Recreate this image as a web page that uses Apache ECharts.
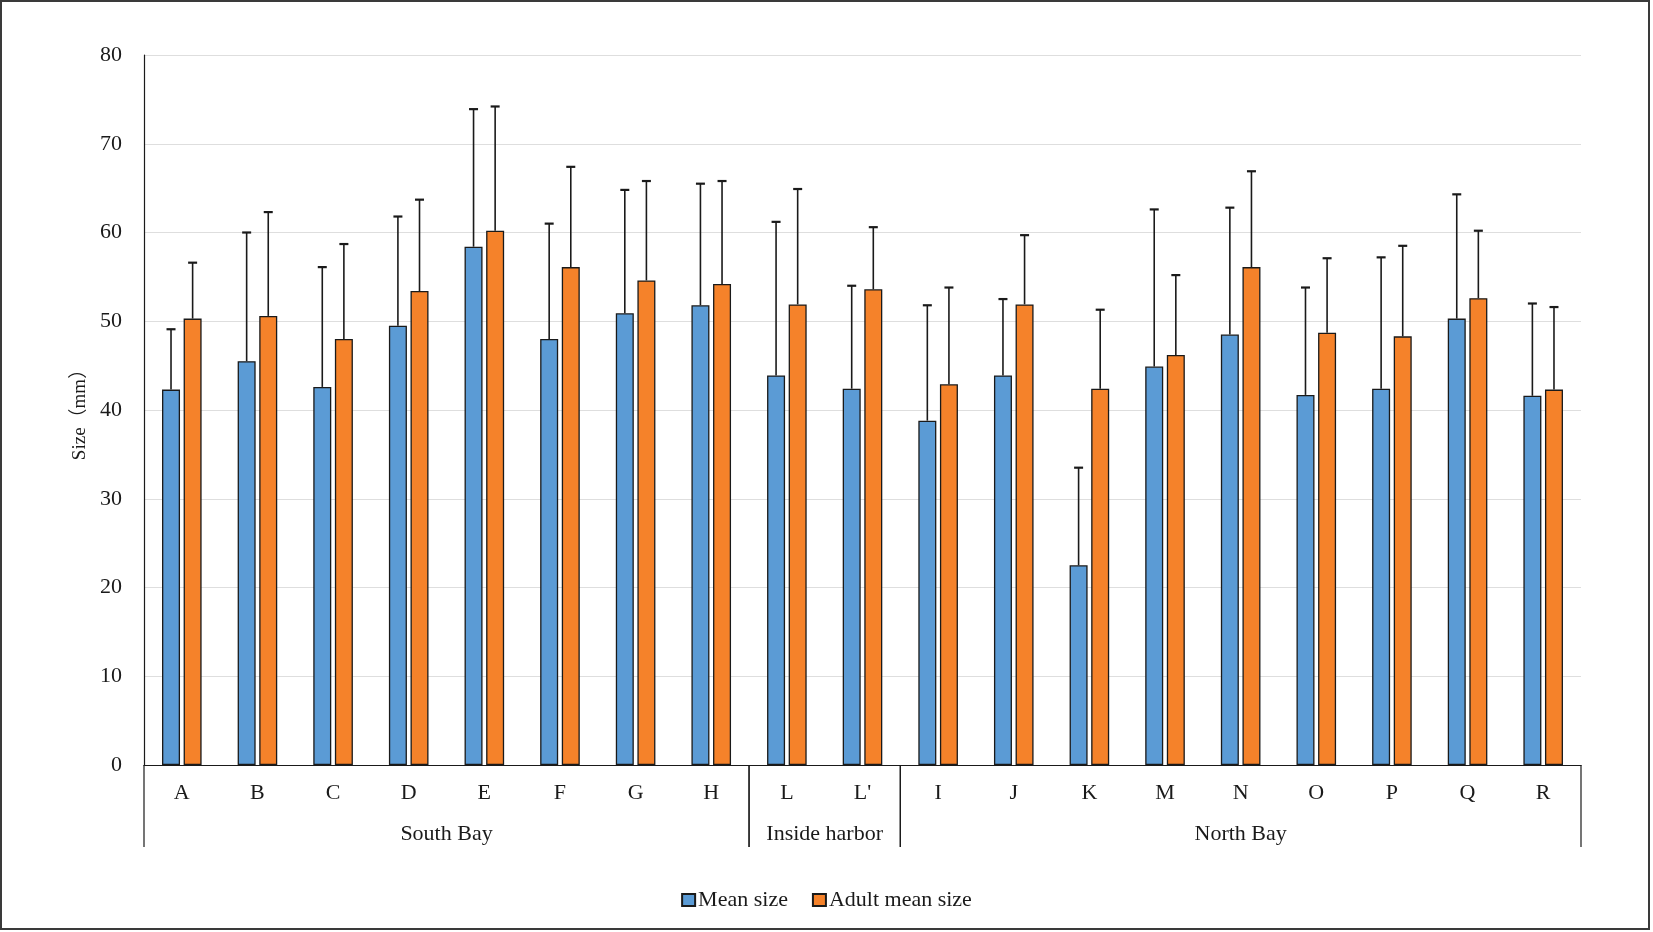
<!DOCTYPE html>
<html>
<head>
<meta charset="utf-8">
<script src="https://cdn.jsdelivr.net/npm/echarts@6/dist/echarts.min.js"></script>
<style>
html,body{margin:0;padding:0;background:#fff;}
#chart{position:absolute;left:0;top:0;width:1653px;height:932px;}
#frame{position:absolute;left:0;top:0;width:1646px;height:926px;border:2px solid #3a3a3a;pointer-events:none;}
</style>
</head>
<body>
<div id="chart"></div>
<div id="frame"></div>
<script>
const categories = ['A','B','C','D','E','F','G','H','L',"L'",'I','J','K','M','N','O','P','Q','R'];
const meanSize = [42.3, 45.5, 42.6, 49.5, 58.4, 48.0, 50.9, 51.8, 43.9, 42.4, 38.8, 43.9, 22.5, 44.9, 48.5, 41.7, 42.4, 50.3, 41.6];
const meanSizeSD = [6.8, 14.5, 13.5, 12.3, 15.5, 13.0, 13.9, 13.7, 17.3, 11.6, 13.0, 8.6, 11.0, 17.7, 14.3, 12.1, 14.8, 14.0, 10.4];
const adultMeanSize = [50.3, 50.6, 48.0, 53.4, 60.2, 56.1, 54.6, 54.2, 51.9, 53.6, 42.9, 51.9, 42.4, 46.2, 56.1, 48.7, 48.3, 52.6, 42.3];
const adultMeanSizeSD = [6.3, 11.7, 10.7, 10.3, 14.0, 11.3, 11.2, 11.6, 13.0, 7.0, 10.9, 7.8, 8.9, 9.0, 10.8, 8.4, 10.2, 7.6, 9.3];
const groupNames = ['South Bay', 'Inside harbor', 'North Bay'];
const groupRanges = [[0, 7], [8, 9], [10, 18]];
const yTicks = [0, 10, 20, 30, 40, 50, 60, 70, 80];

const FONT = "'Liberation Serif', 'Times New Roman', 'Noto Sans CJK SC', serif";
const BAR_W = 18;
const BAR_GAP = 0.2;
const BLUE = '#5B9BD5';
const ORANGE = '#F5822A';

function errRender(sign) {
  return function (params, api) {
    const x = api.value(0), v = api.value(1), sd = api.value(2);
    const off = sign * BAR_W * (1 + BAR_GAP) / 2;
    const b = api.coord([x, v]);
    const t = api.coord([x, v + sd]);
    const cx = b[0] + off;
    const cap = 4.5;
    const st = { stroke: '#1a1a1a', lineWidth: 1.6 };
    return {
      type: 'group',
      children: [
        { type: 'line', shape: { x1: cx, y1: b[1], x2: cx, y2: t[1] }, style: st },
        { type: 'line', shape: { x1: cx - cap, y1: t[1], x2: cx + cap, y2: t[1] }, style: { stroke: '#1a1a1a', lineWidth: 2.2 } }
      ]
    };
  };
}

function groupRender(params, api) {
  const s = api.value(0), e = api.value(1);
  const bw = api.size([1, 0])[0];
  const p0 = api.coord([s, 0]);
  const p1 = api.coord([e, 0]);
  const xl = p0[0] - bw / 2, xr = p1[0] + bw / 2, y0 = p0[1];
  const st = { stroke: '#1a1a1a', lineWidth: 1.2 };
  return {
    type: 'group',
    children: [
      { type: 'line', shape: { x1: xl, y1: y0, x2: xl, y2: y0 + 82 }, style: st },
      { type: 'line', shape: { x1: xr, y1: y0, x2: xr, y2: y0 + 82 }, style: st },
      { type: 'text', style: { text: groupNames[params.dataIndex], x: (xl + xr) / 2, y: y0 + 69,
        align: 'center', verticalAlign: 'middle', fontSize: 22, fontFamily: FONT, fill: '#1a1a1a' } }
    ]
  };
}

const chart = echarts.init(document.getElementById('chart'), null, { renderer: 'canvas' });
chart.setOption({
  animation: false,
  backgroundColor: '#fff',
  grid: { left: 144, right: 72, top: 55, bottom: 167, containLabel: false },
  legend: {
    data: ['Mean size', 'Adult mean size'],
    left: 'center', top: 884,
    icon: 'rect', itemWidth: 13, itemHeight: 12, itemGap: 24,
    textStyle: { fontSize: 22, fontFamily: FONT, color: '#1a1a1a', padding: [0, 0, 0, -2] }
  },
  xAxis: {
    type: 'category',
    data: categories,
    axisLine: { lineStyle: { color: '#1a1a1a', width: 1.2 } },
    axisTick: { show: false },
    axisLabel: { fontSize: 22, fontFamily: FONT, color: '#1a1a1a', margin: 17 }
  },
  yAxis: {
    type: 'value',
    min: yTicks[0], max: yTicks[yTicks.length - 1], interval: 10,
    name: 'Size（mm）',
    nameLocation: 'middle', nameGap: 49,
    nameTextStyle: { fontSize: 19, fontFamily: FONT, color: '#1a1a1a' },
    axisLine: { show: true, lineStyle: { color: '#1a1a1a', width: 1.2 } },
    axisTick: { show: false },
    axisLabel: { fontSize: 22, fontFamily: FONT, color: '#1a1a1a', margin: 22 },
    splitLine: { lineStyle: { color: '#DEDEDE', width: 1.2 } }
  },
  series: [
    { name: 'Mean size', type: 'bar', data: meanSize, barWidth: BAR_W, barGap: (BAR_GAP * 100) + '%',
      itemStyle: { color: BLUE, borderColor: '#1a1a1a', borderWidth: 1.3 } },
    { name: 'Adult mean size', type: 'bar', data: adultMeanSize, barWidth: BAR_W, barGap: (BAR_GAP * 100) + '%',
      itemStyle: { color: ORANGE, borderColor: '#1a1a1a', borderWidth: 1.3 } },
    { name: 'errMean', type: 'custom', renderItem: errRender(-1), z: 5, clip: false,
      data: meanSize.map((v, i) => [i, v, meanSizeSD[i]]) },
    { name: 'errAdult', type: 'custom', renderItem: errRender(1), z: 5, clip: false,
      data: adultMeanSize.map((v, i) => [i, v, adultMeanSizeSD[i]]) },
    { name: 'groups', type: 'custom', renderItem: groupRender, z: 5, clip: false, silent: true,
      data: groupRanges }
  ]
});
</script>
</body>
</html>
